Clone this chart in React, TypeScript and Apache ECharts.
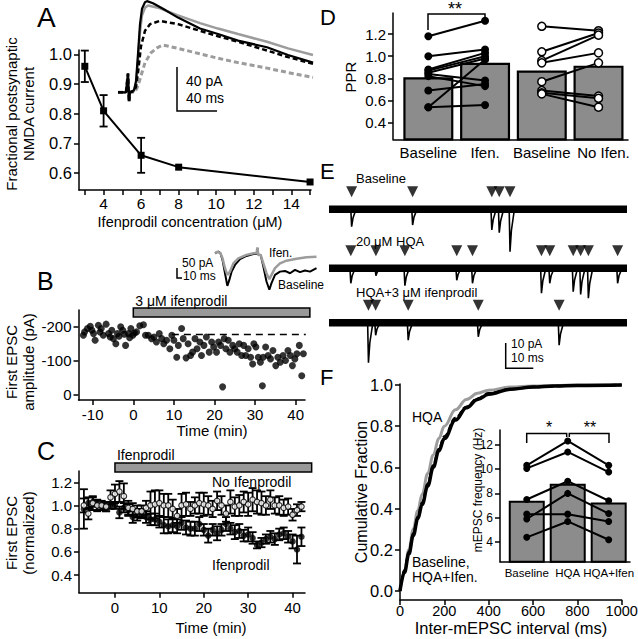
import React, { useEffect, useRef } from "react";
import * as echarts from "echarts";

const FONT = '"Liberation Sans", Arial, Helvetica, sans-serif';
const BAR_GRAY = "#8c8c8c";
const TRACE_GRAY = "#9c9c9c";

// ---------------- Panel A ----------------
const aConc = [3, 4, 6, 8, 15];
const aFraction = [0.96, 0.81, 0.66, 0.62, 0.57];
const aSem = [0.053, 0.053, 0.059, 0, 0];
const aXTicks = [3, 4, 5, 6, 7, 8, 9, 10, 11, 12, 13, 14, 15];
const aXLabels = [4, 6, 8, 10, 12, 14];
const aYTicks = [0.6, 0.7, 0.8, 0.9, 1.0];
// inset NMDA traces (time ms, current pA)
const aCtrlT = [0, 8, 10, 11, 12, 16, 18, 20, 22, 24, 27, 29, 35, 45, 60, 82, 100, 120, 149, 170, 195];
const aCtrlI = [0, 0, 17, -9, 0, 2, 10, 35, 62, 76, 82, 83, 81, 76, 68, 58, 53, 47, 41, 34, 27];
const aCtrl2T = [0, 8, 10, 11, 12, 16, 18, 20, 22, 24, 27, 30, 40, 60, 82, 100, 120, 149, 170, 195];
const aCtrl2I = [0, 0, 17, -9, 0, 1, 7, 28, 55, 70, 77, 79, 77, 70, 63, 58, 53, 46, 40, 34];
const aIfenT = [0, 8, 10, 11, 12, 16, 18, 20, 23, 27, 32, 42, 60, 82, 100, 120, 149, 170, 195];
const aIfenI = [0, 0, 17, -9, 0, 1, 5, 18, 42, 56, 62, 65, 62, 56, 51, 46, 38, 32, 26];
const aIfen2T = [0, 8, 10, 11, 12, 16, 18, 20, 23, 27, 33, 40, 45, 60, 82, 100, 120, 149, 170, 195];
const aIfen2I = [0, 0, 17, -9, 0, 0, 2, 6, 15, 27, 36, 41, 43, 40, 35, 31, 27, 22, 18, 13.5];

// ---------------- Panel B ----------------
const bTime = [-12.3, -12.0, -11.3, -10.6, -10.2, -9.8, -9.4, -8.6, -8.2, -7.9, -7.4, -6.7, -6.1, -5.7, -5.3, -4.9, -4.3, -3.9, -3.5, -3.1, -2.6, -2.2, -1.9, -1.2, -0.9, -0.6, -0.1, 0.3, 0.8, 1.6, 2.5, 3.0, 3.7, 4.5, 5.1, 5.7, 6.4, 7.0, 7.5, 8.2, 9.0, 9.5, 10.0, 10.7, 11.1, 11.9, 12.3, 13.0, 13.5, 14.1, 14.6, 15.2, 15.7, 16.4, 16.8, 17.4, 18.0, 18.7, 19.3, 19.8, 20.5, 21.0, 21.5, 22.0, 22.4, 22.8, 23.4, 23.8, 24.5, 25.0, 25.6, 26.1, 26.7, 27.2, 27.7, 28.3, 28.9, 29.4, 29.7, 30.2, 30.8, 31.3, 31.8, 32.0, 32.6, 33.2, 33.8, 34.4, 35.1, 35.6, 36.2, 36.9, 37.5, 38.1, 38.7, 39.2, 39.8, 40.3, 40.9, 41.5, 41.9];
const bAmp = [-175, -185, -195, -202, -190, -180, -160, -205, -185, -195, -175, -208, -180, -170, -190, -165, -150, -180, -172, -200, -190, -178, -145, -180, -168, -195, -175, -182, -185, -203, -206, -175, -175, -165, -170, -155, -180, -165, -150, -160, -135, -175, -160, -110, -145, -195, -165, -108, -150, -115, -125, -165, -135, -155, -115, -145, -170, -125, -155, -140, -125, -155, -145, -22, -165, -135, -160, -125, -145, -135, -125, -150, -115, -145, -115, -135, -110, -90, -150, -140, -110, -95, -25, -110, -140, -115, -105, -130, -85, -110, -95, -115, -100, -130, -115, -85, -105, -120, -145, -55, -120];
const bBaselineMean = -177;
const bMeanFrom = 9.5;
const bMeanTo = 42.5;
const bDrug = [0, 43.5];
const bXTicks = [-10, 0, 10, 20, 30, 40];
const bYTicks = [-200, -100, 0];
// inset paired-pulse traces (time ms, current pA)
const bInsetBaseT = [0, 6.7, 11, 15, 20, 24.7, 28.7, 33.3, 40, 50, 63, 76.7, 83.3, 84.7, 86.7, 91.3, 96.7, 103, 108.7, 113, 120, 130, 140, 150, 160, 170, 180, 190, 203];
const bInsetBaseI = [0, 9, 0, -37, -111, -181, -148, -101, -65, -33, -15, -4, -4, 28, -9, -9, -74, -157, -203, -166, -120, -102, -98, -111, -92, -105, -96, -102, -83];
const bInsetIfenT = [0, 4.7, 11, 15, 20, 24.7, 30, 36.7, 46.7, 63, 76.7, 83.3, 84.7, 86.7, 91.3, 96.7, 103, 108.7, 113, 120, 130, 143, 163, 183, 203];
const bInsetIfenI = [0, 9, 0, -28, -83, -120, -102, -56, -28, -9, 0, 0, 33, -9, -9, -56, -111, -144, -120, -83, -56, -41, -31, -22, -19];

// ---------------- Panel C ----------------
const cTime = [-7, -6, -5, -4, -3, -2, -1, 0, 1, 2, 3, 4, 5, 6, 7, 8, 9, 10, 11, 12, 13, 14, 15, 16, 17, 18, 19, 20, 21, 22, 23, 24, 25, 26, 27, 28, 29, 30, 31, 32, 33, 34, 35, 36, 37, 38, 39, 40, 41, 42];
const cIfen = [0.97, 1.02, 1.03, 1.0, 0.99, 0.98, 1.0, 1.0, 0.94, 0.98, 0.96, 0.9, 0.92, 0.93, 0.9, 0.88, 0.88, 0.86, 0.83, 0.82, 0.83, 0.82, 0.85, 0.81, 0.8, 0.8, 0.84, 0.79, 0.74, 0.79, 0.76, 0.79, 0.84, 0.8, 0.77, 0.78, 0.74, 0.75, 0.72, 0.66, 0.68, 0.71, 0.73, 0.71, 0.75, 0.76, 0.73, 0.69, 0.62, 0.73];
const cIfenSem = [0.17, 0.05, 0.04, 0.04, 0.03, 0.03, 0.03, 0.03, 0.05, 0.04, 0.05, 0.05, 0.05, 0.04, 0.05, 0.05, 0.05, 0.05, 0.07, 0.06, 0.06, 0.06, 0.06, 0.06, 0.06, 0.06, 0.06, 0.05, 0.06, 0.05, 0.06, 0.05, 0.06, 0.05, 0.06, 0.06, 0.05, 0.06, 0.05, 0.03, 0.04, 0.04, 0.05, 0.05, 0.05, 0.05, 0.05, 0.06, 0.12, 0.08];
const cNoIfen = [1.0, 0.93, 1.02, 1.0, 1.0, 0.99, 1.07, 1.1, 1.12, 1.08, 0.98, 0.97, 0.95, 0.95, 0.98, 1.0, 1.01, 1.02, 1.0, 1.0, 0.97, 0.91, 1.0, 1.01, 0.97, 1.0, 1.02, 1.01, 1.0, 0.97, 1.04, 1.0, 0.93, 1.03, 0.99, 1.0, 1.03, 1.01, 1.05, 1.03, 1.02, 1.0, 1.05, 1.0, 1.0, 0.98, 0.99, 0.92, 0.96, 0.99];
const cNoIfenSem = [0.06, 0.05, 0.06, 0.05, 0.04, 0.04, 0.06, 0.08, 0.09, 0.11, 0.06, 0.05, 0.05, 0.05, 0.06, 0.12, 0.12, 0.11, 0.1, 0.1, 0.08, 0.06, 0.1, 0.1, 0.06, 0.07, 0.09, 0.1, 0.08, 0.07, 0.08, 0.08, 0.07, 0.1, 0.08, 0.09, 0.09, 0.1, 0.1, 0.1, 0.1, 0.08, 0.08, 0.07, 0.08, 0.07, 0.07, 0.05, 0.05, 0.04];
const cDrug = [0, 44.3];
const cXTicks = [0, 10, 20, 30, 40];
const cYTicks = [0.4, 0.6, 0.8, 1.0, 1.2];

// ---------------- Panel D ----------------
const dCats = ["Baseline", "Ifen.", "Baseline", "No Ifen."];
const dMeans = [0.81, 0.94, 0.87, 0.915];
const dIfenBase = [1.18, 1.0, 0.88, 0.87, 0.85, 0.84, 0.82, 0.69, 0.54, 0.54];
const dIfenDrug = [1.32, 1.06, 1.03, 1.0, 0.98, 0.78, 0.73, 0.75, 0.97, 0.56];
const dCtrlBase = [1.27, 1.04, 0.96, 0.94, 0.77, 0.69, 0.67, 0.66];
const dCtrlLater = [1.23, 1.21, 1.19, 1.03, 0.94, 0.64, 0.62, 0.54];
const dYTicks = [0.4, 0.6, 0.8, 1.0, 1.2];

// ---------------- Panel E ----------------
const eBaseEventT = [8.2, 30.3, 59.0, 61.7, 65.6];
const eBaseEventA = [7, 6.3, 8.3, 9.4, 17];
const eHqaEventT = [7.9, 17.0, 27.5, 46.3, 52.0, 77.0, 80.0, 88.5, 91.2, 94.0, 104.6];
const eHqaEventA = [6, 3, 7, 4.8, 6, 10, 6, 9.4, 10.5, 12, 6];
const eIfenEventT = [14.3, 16.9, 28.7, 54.1, 83.4];
const eIfenEventA = [16, 5, 7, 5.6, 9];

// ---------------- Panel F ----------------
const fIntervalMs = [0, 20, 40, 60, 80, 100, 125, 150, 175, 200, 250, 300, 350, 400, 500, 600, 700, 800, 1000];
const fCdfHqa = [0, 0.1, 0.2, 0.3, 0.39, 0.47, 0.57, 0.66, 0.74, 0.8, 0.88, 0.93, 0.96, 0.975, 0.99, 0.995, 0.998, 1.0, 1.0];
const fCdfBaseline = [0, 0.09, 0.18, 0.27, 0.35, 0.42, 0.51, 0.6, 0.68, 0.74, 0.83, 0.89, 0.93, 0.955, 0.98, 0.99, 0.995, 0.998, 1.0];
const fCdfHqaIfen = [0, 0.1, 0.19, 0.28, 0.36, 0.43, 0.52, 0.61, 0.69, 0.75, 0.84, 0.895, 0.935, 0.96, 0.98, 0.99, 0.995, 0.998, 1.0];
const fXTicks = [0, 200, 400, 600, 800, 1000];
const fYTicks = [0, 0.2, 0.4, 0.6, 0.8, 1.0];
const fCats = ["Baseline", "HQA", "HQA+Ifen"];
const fFreqMeans = [7.4, 8.8, 7.25];
const fCellBaseline = [10.3, 10.05, 7.5, 5.9, 6.3, 4.4];
const fCellHqa = [12.3, 11.4, 9.0, 8.0, 6.3, 5.7];
const fCellHqaIfen = [10.3, 9.75, 7.4, 6.35, 5.7, 4.2];
const fInsetYTicks = [4, 6, 8, 10, 12];

// ---------------- helpers ----------------
const AXS = { color: "#000", width: 1.5 };

function valAxis(gridIndex: number, min: number, max: number, ticks: number[] | null, labels: number[] | null, fontSize: number, fmt: any, extra: any = {}, labelExtra: any = {}) {
  return {
    type: "value",
    gridIndex,
    min,
    max,
    axisLine: { show: true, onZero: false, lineStyle: AXS },
    axisTick: ticks ? { show: true, length: 5, inside: false, lineStyle: AXS, customValues: ticks } : { show: false },
    axisLabel: labels
      ? { show: true, color: "#000", fontSize, fontFamily: FONT, fontWeight: "normal", margin: 7, customValues: labels, formatter: fmt, ...labelExtra }
      : { show: false },
    splitLine: { show: false },
    ...extra,
  };
}
function hiddenAxis(gridIndex: number, min: number, max: number, extra: any = {}) {
  return { type: "value", gridIndex, min, max, show: false, splitLine: { show: false }, axisLine: { onZero: false }, ...extra };
}
const zip = (xs: number[], ys: number[]) => xs.map((x, i) => [x, ys[i]]);

function errorBars(axisIdx: number, xs: number[], ys: number[], errs: number[], capW: number, z: number) {
  const data = xs.map((x, i) => [x, ys[i] - errs[i], ys[i] + errs[i]]).filter((d, i) => errs[i] > 0);
  return {
    type: "custom",
    xAxisIndex: axisIdx,
    yAxisIndex: axisIdx,
    silent: true,
    z,
    data,
    encode: { x: 0, y: [1, 2] },
    renderItem: (params: any, api: any) => {
      const x = api.value(0);
      const p1 = api.coord([x, api.value(1)]);
      const p2 = api.coord([x, api.value(2)]);
      const style = { stroke: "#000", lineWidth: 1.8 };
      return {
        type: "group",
        children: [
          { type: "line", shape: { x1: p1[0], y1: p1[1], x2: p2[0], y2: p2[1] }, style },
          { type: "line", shape: { x1: p1[0] - capW / 2, y1: p1[1], x2: p1[0] + capW / 2, y2: p1[1] }, style },
          { type: "line", shape: { x1: p2[0] - capW / 2, y1: p2[1], x2: p2[0] + capW / 2, y2: p2[1] }, style },
        ],
      };
    },
  };
}

function drugBar(axisIdx: number, range: number[], label: string, barOffset: number, textOffset: number) {
  return {
    type: "custom",
    xAxisIndex: axisIdx,
    yAxisIndex: axisIdx,
    silent: true,
    clip: false,
    z: 5,
    data: [[range[0], range[1]]],
    renderItem: (params: any, api: any) => {
      const ys = params.coordSys.y;
      const x0 = api.coord([api.value(0), 0])[0];
      const x1 = api.coord([api.value(1), 0])[0];
      return {
        type: "group",
        children: [
          { type: "rect", shape: { x: x0, y: ys + barOffset, width: x1 - x0, height: 9 }, style: { fill: "#999", stroke: "#000", lineWidth: 1.5 } },
          { type: "text", x: x0 + 2, y: ys + textOffset, style: { text: label, fill: "#000", fontSize: 14, fontFamily: FONT, fontWeight: "normal", align: "left", verticalAlign: "middle" } },
        ],
      };
    },
  };
}

function eventTrace(base: number, ts: number[], amps: number[]) {
  const pts: number[][] = [[0, base]];
  ts.forEach((t, i) => {
    pts.push([t - 0.3, base], [t, base - amps[i]], [t + 0.5, base - amps[i] * 0.5], [t + 1.6, base]);
  });
  pts.push([108, base]);
  return pts;
}

function T(text: string, x: number, y: number, size: number, align = "left", vAlign = "middle", rotation = 0, lineHeight?: number) {
  return {
    type: "text",
    x,
    y,
    rotation,
    silent: true,
    z: 100,
    style: { text, fill: "#000", fontSize: size, fontFamily: FONT, fontWeight: "normal", align, verticalAlign: vAlign, lineHeight },
  };
}
function PL(points: number[][], lw = 1.5) {
  return { type: "polyline", silent: true, z: 100, shape: { points }, style: { stroke: "#000", lineWidth: lw, fill: "none" } };
}

function buildOption() {
  const gridBoxes = [
    { left: 79, top: 50, width: 232, height: 140 }, // 0 A
    { left: 118, top: 0, width: 200, height: 100 }, // 1 A inset
    { left: 78.5, top: 310, width: 226.5, height: 90 }, // 2 B
    { left: 215, top: 245, width: 102, height: 50 }, // 3 B inset
    { left: 79, top: 471, width: 226, height: 121.7 }, // 4 C
    { left: 393, top: 13, width: 235, height: 126.3 }, // 5 D
    { left: 329, top: 185, width: 298, height: 185 }, // 6 E
    { left: 400, top: 384, width: 221.7, height: 216 }, // 7 F
    { left: 500, top: 430, width: 130, height: 131.7 }, // 8 F inset
  ];
  const grid = gridBoxes.map((g) => ({ ...g, containLabel: false, outerBoundsMode: "none", show: false }));
  const f1 = (v: number) => v.toFixed(1);
  const fInt = (v: number) => String(v);
  const dFmt = (v: number) => {
    const i = Math.round(v);
    return i === 3 ? "{s|" + dCats[i] + "}" : dCats[i];
  };

  const xAxis = [
    valAxis(0, 2.69, 15.05, aXTicks, aXLabels, 15.5, fInt, {}, { margin: 5 }),
    hiddenAxis(1, 0, 200),
    valAxis(2, -13.5, 42.3, bXTicks, bXTicks, 15, fInt),
    hiddenAxis(3, 0, 204),
    valAxis(4, -8.1, 42.8, cXTicks, cXTicks, 15, fInt),
    valAxis(5, -0.623, 3.52, null, [0, 1, 2, 3], 15, dFmt, {}, {
      margin: 6,
      rich: { s: { fontSize: 15, fontFamily: FONT, color: "#000", padding: [0, 0, 0, 10] } },
    }),
    hiddenAxis(6, 0, 108),
    valAxis(7, 0, 1000, fXTicks, fXTicks, 14.5, fInt, {}, { margin: 3 }),
    valAxis(8, -0.653, 2.52, null, [0, 1, 2], 11.5, (v: number) => fCats[Math.round(v)], {}, { margin: 5 }),
  ];
  const yAxis = [
    valAxis(0, 0.543, 1.015, aYTicks, aYTicks, 16.5, f1),
    hiddenAxis(1, -7, 84),
    valAxis(2, -250, 17, bYTicks, bYTicks, 15, fInt, { inverse: true }),
    hiddenAxis(3, -232, 46),
    valAxis(4, 0.248, 1.297, cYTicks, cYTicks, 15, f1),
    valAxis(5, 0.25, 1.39, dYTicks, dYTicks, 15, f1),
    hiddenAxis(6, -74, 0),
    valAxis(7, -0.0437, 1.005, fYTicks, fYTicks, 16.5, f1),
    valAxis(8, 2.4, 13.2, fInsetYTicks, fInsetYTicks, 12, fInt),
  ];

  const series: any[] = [];

  // ---- A ----
  series.push(errorBars(0, aConc, aFraction, aSem, 8, 3));
  series.push({
    type: "line", xAxisIndex: 0, yAxisIndex: 0, data: zip(aConc, aFraction), symbol: "rect", symbolSize: 7,
    lineStyle: { color: "#000", width: 2 }, itemStyle: { color: "#000" }, z: 4,
  });
  const traceLine = (idx: number, data: number[][], color: string, width: number, dashed: boolean, z: number) => ({
    type: "line", xAxisIndex: idx, yAxisIndex: idx, data, symbol: "none", z,
    lineStyle: { color, width, type: dashed ? [5, 3] : "solid" },
  });
  series.push(traceLine(1, zip(aIfen2T, aIfen2I), TRACE_GRAY, 3, true, 2));
  series.push(traceLine(1, zip(aCtrl2T, aCtrl2I), TRACE_GRAY, 2.5, false, 2));
  series.push(traceLine(1, zip(aIfenT, aIfenI), "#000", 2.5, true, 3));
  series.push(traceLine(1, zip(aCtrlT, aCtrlI), "#000", 2.2, false, 3));

  // ---- B ----
  series.push(drugBar(2, bDrug, "3 μM ifenprodil", -2, -9.5));
  series.push({
    type: "line", xAxisIndex: 2, yAxisIndex: 2, data: [[bMeanFrom, bBaselineMean], [bMeanTo, bBaselineMean]],
    symbol: "none", lineStyle: { color: "#000", width: 1.5, type: [7, 5] }, z: 2,
  });
  series.push({
    type: "scatter", xAxisIndex: 2, yAxisIndex: 2, data: zip(bTime, bAmp), symbol: "circle", symbolSize: 7,
    itemStyle: { color: "#000" }, z: 3,
  });
  series.push(traceLine(3, zip(bInsetBaseT, bInsetBaseI), "#000", 2, false, 2));
  series.push(traceLine(3, zip(bInsetIfenT, bInsetIfenI), TRACE_GRAY, 2.5, false, 3));

  // ---- C ----
  series.push(drugBar(4, cDrug, "Ifenprodil", -8, -16));
  series.push(errorBars(4, cTime, cIfen, cIfenSem, 8, 3));
  series.push({
    type: "scatter", xAxisIndex: 4, yAxisIndex: 4, data: zip(cTime, cIfen), symbol: "circle", symbolSize: 6.5,
    itemStyle: { color: "#000" }, z: 4,
  });
  series.push(errorBars(4, cTime, cNoIfen, cNoIfenSem, 8, 5));
  series.push({
    type: "scatter", xAxisIndex: 4, yAxisIndex: 4, data: zip(cTime, cNoIfen), symbol: "circle", symbolSize: 5.5,
    itemStyle: { color: "#fff", borderColor: "#000", borderWidth: 1.2 }, z: 6,
  });

  // ---- D ----
  series.push({
    type: "bar", xAxisIndex: 5, yAxisIndex: 5, data: dMeans.map((m, i) => [i, m]), barWidth: 50,
    itemStyle: { color: BAR_GRAY, borderColor: "#000", borderWidth: 2.2 }, z: 2,
  });
  dIfenBase.forEach((b, i) => {
    series.push({
      type: "line", xAxisIndex: 5, yAxisIndex: 5, data: [[0, b], [1, dIfenDrug[i]]], symbol: "circle", symbolSize: 8,
      lineStyle: { color: "#000", width: 2 }, itemStyle: { color: "#000" }, z: 4,
    });
  });
  dCtrlBase.forEach((b, i) => {
    series.push({
      type: "line", xAxisIndex: 5, yAxisIndex: 5, data: [[2, b], [3, dCtrlLater[i]]], symbol: "circle", symbolSize: 8,
      lineStyle: { color: "#000", width: 2 }, itemStyle: { color: "#fff", borderColor: "#000", borderWidth: 1.5 }, z: 4,
    });
  });

  // ---- E ----
  const eBases = [-9.7, -33.3, -55.1];
  const eSets = [
    [eBaseEventT, eBaseEventA],
    [eHqaEventT, eHqaEventA],
    [eIfenEventT, eIfenEventA],
  ];
  eSets.forEach(([ts, as], k) => {
    const base = eBases[k];
    series.push({
      type: "line", xAxisIndex: 6, yAxisIndex: 6, data: [[0, base], [108, base]], symbol: "none",
      lineStyle: { color: "#000", width: 7.5 }, z: 2,
    });
    series.push({
      type: "line", xAxisIndex: 6, yAxisIndex: 6, data: eventTrace(base, ts, as), symbol: "none",
      lineStyle: { color: "#000", width: 1.6 }, z: 3,
    });
    series.push({
      type: "scatter", xAxisIndex: 6, yAxisIndex: 6, data: ts.map((t) => [t, base + 7]), symbol: "triangle",
      symbolRotate: 180, symbolSize: [11, 11], itemStyle: { color: "#000" }, z: 4,
    });
  });

  // ---- F ----
  series.push({
    type: "line", xAxisIndex: 7, yAxisIndex: 7, data: zip(fIntervalMs, fCdfHqa), symbol: "none", smooth: 0.4,
    smoothMonotone: "x", lineStyle: { color: TRACE_GRAY, width: 3 }, z: 2,
  });
  series.push({
    type: "line", xAxisIndex: 7, yAxisIndex: 7, data: zip(fIntervalMs, fCdfBaseline), symbol: "none", smooth: 0.4,
    smoothMonotone: "x", lineStyle: { color: "#000", width: 3.5 }, z: 3,
  });
  series.push({
    type: "line", xAxisIndex: 7, yAxisIndex: 7, data: zip(fIntervalMs, fCdfHqaIfen), symbol: "none", smooth: 0.4,
    smoothMonotone: "x", lineStyle: { color: "#000", width: 2.5, type: [6, 3] }, z: 4,
  });
  series.push({
    type: "bar", xAxisIndex: 8, yAxisIndex: 8, data: fFreqMeans.map((m, i) => [i, m]), barWidth: 36,
    itemStyle: { color: BAR_GRAY, borderColor: "#000", borderWidth: 2 }, z: 5,
  });
  fCellBaseline.forEach((b, i) => {
    series.push({
      type: "line", xAxisIndex: 8, yAxisIndex: 8, data: [[0, b], [1, fCellHqa[i]], [2, fCellHqaIfen[i]]],
      symbol: "circle", symbolSize: 7, lineStyle: { color: "#000", width: 2 }, itemStyle: { color: "#000" }, z: 6,
    });
  });

  const graphic = [
    // panel letters
    T("A", 37, 17, 28),
    T("B", 37, 281, 25),
    T("C", 37, 451, 25),
    T("D", 320, 17, 22),
    T("E", 320, 171, 22),
    T("F", 320, 377, 22),
    // axis titles
    T("Fractional postsynaptic\nNMDA current", 20, 114, 15, "center", "middle", Math.PI / 2, 17),
    T("Ifenprodil concentration (μM)", 190, 221.5, 14.5, "center"),
    T("First EPSC\namplitude (pA)", 20, 362, 15, "center", "middle", Math.PI / 2, 17),
    T("Time (min)", 212, 430, 15, "center"),
    T("First EPSC\n(normalized)", 20, 533, 15, "center", "middle", Math.PI / 2, 17),
    T("Time (min)", 211, 627, 15, "center"),
    T("PPR", 350, 77, 15, "center", "middle", Math.PI / 2),
    T("Cumulative Fraction", 361, 492, 16, "center", "middle", Math.PI / 2),
    T("Inter-mEPSC interval (ms)", 511, 628, 16.5, "center"),
    T("mEPSC frequency (Hz)", 478, 490, 12, "center", "middle", Math.PI / 2),
    // A inset scale bar
    PL([[177, 67], [177, 111], [217, 111]]),
    T("40 pA", 186, 81, 14),
    T("40 ms", 186, 98, 14),
    // B inset
    PL([[177, 268], [177, 278], [182, 278]]),
    T("50 pA", 182, 262.5, 12),
    T("10 ms", 183, 276, 12),
    T("Ifen.", 269, 253, 12),
    T("Baseline", 278, 285, 12),
    // C labels
    T("No Ifenprodil", 212, 482, 14),
    T("Ifenprodil", 212, 565, 14),
    // D bracket
    PL([[428, 30], [428, 14], [485, 14], [485, 18]], 1.5),
    T("**", 455, 9, 18, "center"),
    // E labels
    T("Baseline", 356, 178, 13),
    T("20 μM HQA", 356, 241, 13),
    T("HQA+3 μM ifenprodil", 356, 292, 13),
    PL([[505.7, 343], [505.7, 368.3], [533.3, 368.3]]),
    T("10 pA", 511, 344, 12),
    T("10 ms", 511, 358, 12),
    // F labels
    T("HQA", 412, 417, 14),
    T("Baseline,", 412, 562, 14),
    T("HQA+Ifen.", 412, 577, 14),
    PL([[526.7, 443], [526.7, 433.5], [566.7, 433.5], [566.7, 437]]),
    PL([[569.3, 437], [569.3, 433.5], [609, 433.5], [609, 443]]),
    T("*", 549, 427, 16, "center"),
    T("**", 590, 427, 16, "center"),
  ];

  return {
    animation: false,
    backgroundColor: "#fff",
    textStyle: { fontFamily: FONT, fontWeight: "normal" },
    grid,
    xAxis,
    yAxis,
    series,
    graphic,
  };
}

export default function App() {
  const ref = useRef<HTMLDivElement>(null);
  useEffect(() => {
    const chart = echarts.init(ref.current as HTMLDivElement, null, { renderer: "svg" });
    chart.setOption(buildOption() as any);
    return () => chart.dispose();
  }, []);
  return (
    <div
      ref={ref}
      style={{ position: "fixed", left: 0, top: 0, width: 638, height: 639, background: "#fff" }}
    />
  );
}
